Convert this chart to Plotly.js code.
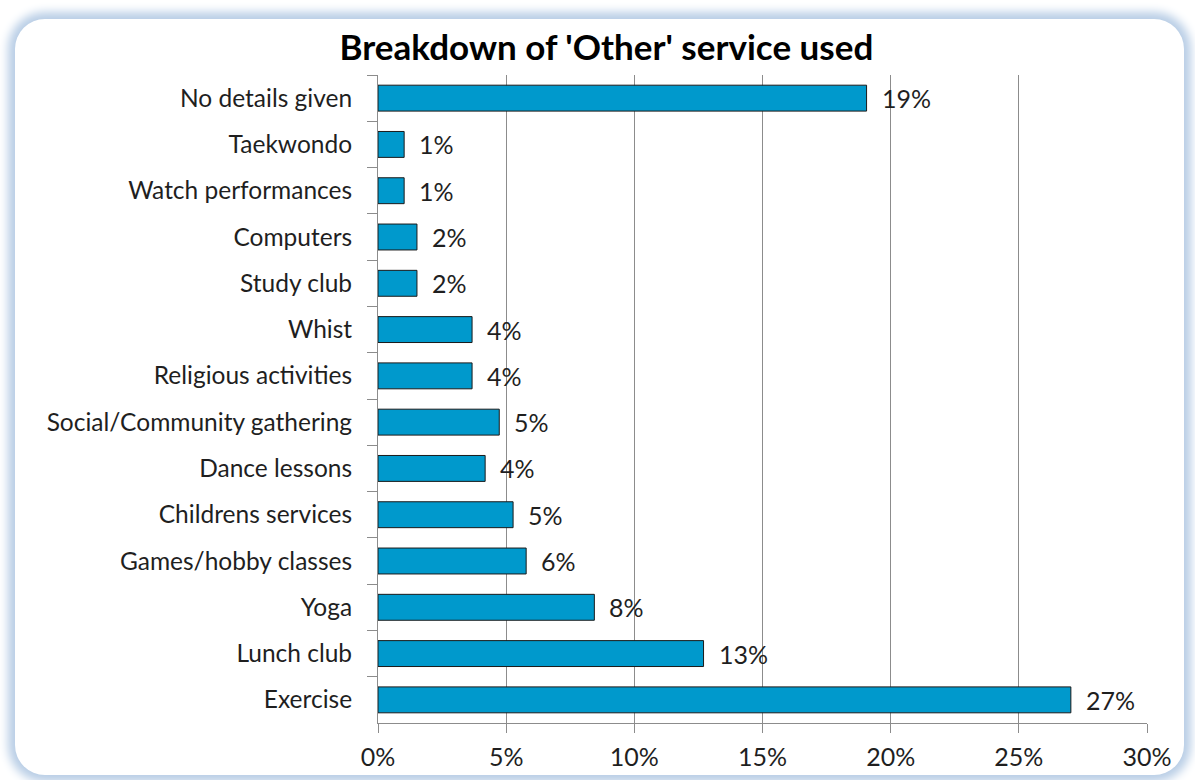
<!DOCTYPE html>
<html>
<head>
<meta charset="utf-8">
<script src="https://cdn.plot.ly/plotly-3.0.1.min.js"></script>
<style>
  html, body { margin: 0; padding: 0; width: 1195px; height: 780px; overflow: hidden; background: #ffffff; }
  #frame { position: absolute; left: 15px; top: 19px; width: 1169px; height: 756px;
           border-radius: 30px; background: #ffffff;
           box-shadow: 0 0 10px 7px #b9cee6; }
  #chart { position: absolute; left: 0; top: 0; width: 1195px; height: 780px; }
</style>
</head>
<body>
<div id="frame"></div>
<div id="chart"></div>
<script>
// Categories listed top to bottom
const categories = [
  "No details given", "Taekwondo", "Watch performances", "Computers", "Study club",
  "Whist", "Religious activities", "Social/Community gathering", "Dance lessons",
  "Childrens services", "Games/hobby classes", "Yoga", "Lunch club", "Exercise"
];
// Percent values
const values = [19.06, 1.02, 1.02, 1.52, 1.52, 3.67, 3.67, 4.73, 4.18, 5.27, 5.78, 8.44, 12.7, 27.03];
const labels = ["19%", "1%", "1%", "2%", "2%", "4%", "4%", "5%", "4%", "5%", "6%", "8%", "13%", "27%"];
const xTickVals = [0, 5, 10, 15, 20, 25, 30];
const xTickText = ["0%", "5%", "10%", "15%", "20%", "25%", "30%"];
const chartTitle = "Breakdown of 'Other' service used";

const FONT = "Lato, 'Open Sans', sans-serif";
const TXT = "#1f1f1f";

const trace = {
  type: "bar",
  orientation: "h",
  x: values,
  y: categories,
  marker: { color: "#0099cc", line: { color: "#1a1a1a", width: 1 } },
  hoverinfo: "skip"
};

const annotations = categories.map((c, i) => ({
  x: values[i], y: c, xref: "x", yref: "y",
  text: labels[i], showarrow: false, xanchor: "left", yanchor: "middle",
  xshift: 13, font: { family: FONT, size: 25, color: TXT }
}));

const layout = {
  width: 1195, height: 780,
  margin: { l: 378, r: 48, t: 75, b: 57 },
  paper_bgcolor: "rgba(0,0,0,0)",
  plot_bgcolor: "rgba(0,0,0,0)",
  showlegend: false,
  bargap: 0.44,
  title: { text: "<b>" + chartTitle + "</b>", x: 0.5075, xanchor: "center", y: 1 - 48/780, yanchor: "middle",
           font: { family: FONT, size: 35, color: "#000000" } },
  xaxis: {
    range: [0, 30], tickvals: xTickVals, ticktext: xTickText,
    showgrid: true, gridcolor: "#8c8c8c", gridwidth: 1,
    zeroline: false, showline: true, linecolor: "#8c8c8c", linewidth: 1,
    ticks: "outside", ticklen: 9, tickcolor: "#8c8c8c", ticklabelstandoff: 3,
    tickfont: { family: FONT, size: 25, color: TXT }, fixedrange: true
  },
  yaxis: {
    autorange: "reversed", type: "category",
    showline: true, linecolor: "#8c8c8c", linewidth: 1,
    ticks: "outside", tickson: "boundaries", ticklen: 10, tickcolor: "#8c8c8c",
    ticklabelstandoff: 20, showgrid: false,
    tickfont: { family: FONT, size: 24.5, color: TXT }, fixedrange: true
  },
  annotations: annotations
};

Plotly.newPlot("chart", [trace], layout, { displayModeBar: false, staticPlot: true });
</script>
</body>
</html>
